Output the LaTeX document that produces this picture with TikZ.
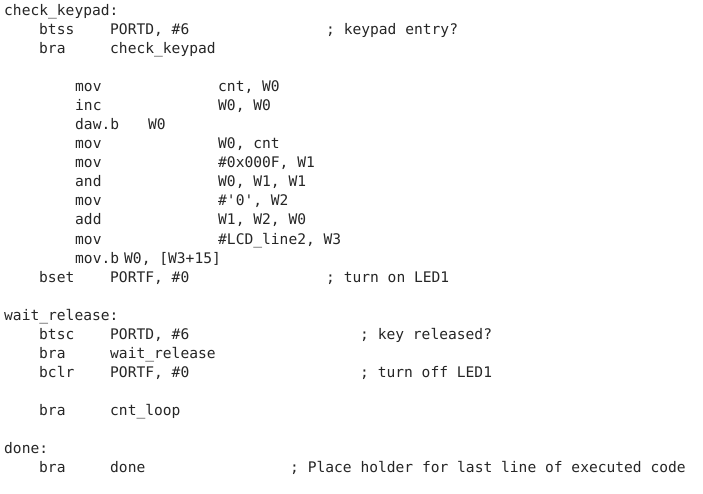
\documentclass[tikz,border=0pt]{standalone}
\usepackage{fontspec}
\setmonofont{DejaVu Sans Mono}
\begin{document}
\begin{tikzpicture}[x=1pt,y=-1pt,
  code/.style={anchor=base west,inner sep=0pt,font=\ttfamily\fontsize{14.6}{16}\selectfont,text=black!85}]
\useasboundingbox[fill=white] (0,0) rectangle (703,494);
\node[code] (l1) at (4,16) {check\_keypad:};
\node[code] (l2a) at (39,35) {btss}; \node[code] (l2b) at (110,35) {PORTD, \#6}; \node[code] (l2c) at (326,35) {; keypad entry?};
\node[code] (l3a) at (39,54) {bra}; \node[code] (l3b) at (110,54) {check\_keypad};
\node[code] (m1a) at (75,92) {mov}; \node[code] (m1b) at (218,92) {cnt, W0};
\node[code] (m2a) at (75,111) {inc}; \node[code] (m2b) at (218,111) {W0, W0};
\node[code] (m3a) at (75,130) {daw.b}; \node[code] (m3b) at (148,130) {W0};
\node[code] (m4a) at (75,149) {mov}; \node[code] (m4b) at (218,149) {W0, cnt};
\node[code] (m5a) at (75,168) {mov}; \node[code] (m5b) at (218,168) {\#0x000F, W1};
\node[code] (m6a) at (75,187) {and}; \node[code] (m6b) at (218,187) {W0, W1, W1};
\node[code] (m7a) at (75,206) {mov}; \node[code] (m7b) at (218,206) {\#'0', W2};
\node[code] (m8a) at (75,225) {add}; \node[code] (m8b) at (218,225) {W1, W2, W0};
\node[code] (m9a) at (75,244) {mov}; \node[code] (m9b) at (218,244) {\#LCD\_line2, W3};
\node[code] (m10a) at (75,263) {mov.b}; \node[code] (m10b) at (124,263) {W0, [W3+15]};
\node[code] (b1a) at (39,282) {bset}; \node[code] (b1b) at (110,282) {PORTF, \#0}; \node[code] (b1c) at (326,282) {; turn on LED1};
\node[code] (w0) at (4,320) {wait\_release:};
\node[code] (w1a) at (39,339) {btsc}; \node[code] (w1b) at (110,339) {PORTD, \#6}; \node[code] (w1c) at (360,339) {; key released?};
\node[code] (w2a) at (39,358) {bra}; \node[code] (w2b) at (110,358) {wait\_release};
\node[code] (w3a) at (39,377) {bclr}; \node[code] (w3b) at (110,377) {PORTF, \#0}; \node[code] (w3c) at (360,377) {; turn off LED1};
\node[code] (c1a) at (39,415) {bra}; \node[code] (c1b) at (110,415) {cnt\_loop};
\node[code] (d0) at (4,453) {done:};
\node[code] (d1a) at (39,472) {bra}; \node[code] (d1b) at (110,472) {done}; \node[code] (d1c) at (290,472) {; Place holder for last line of executed code};
\end{tikzpicture}
\end{document}
